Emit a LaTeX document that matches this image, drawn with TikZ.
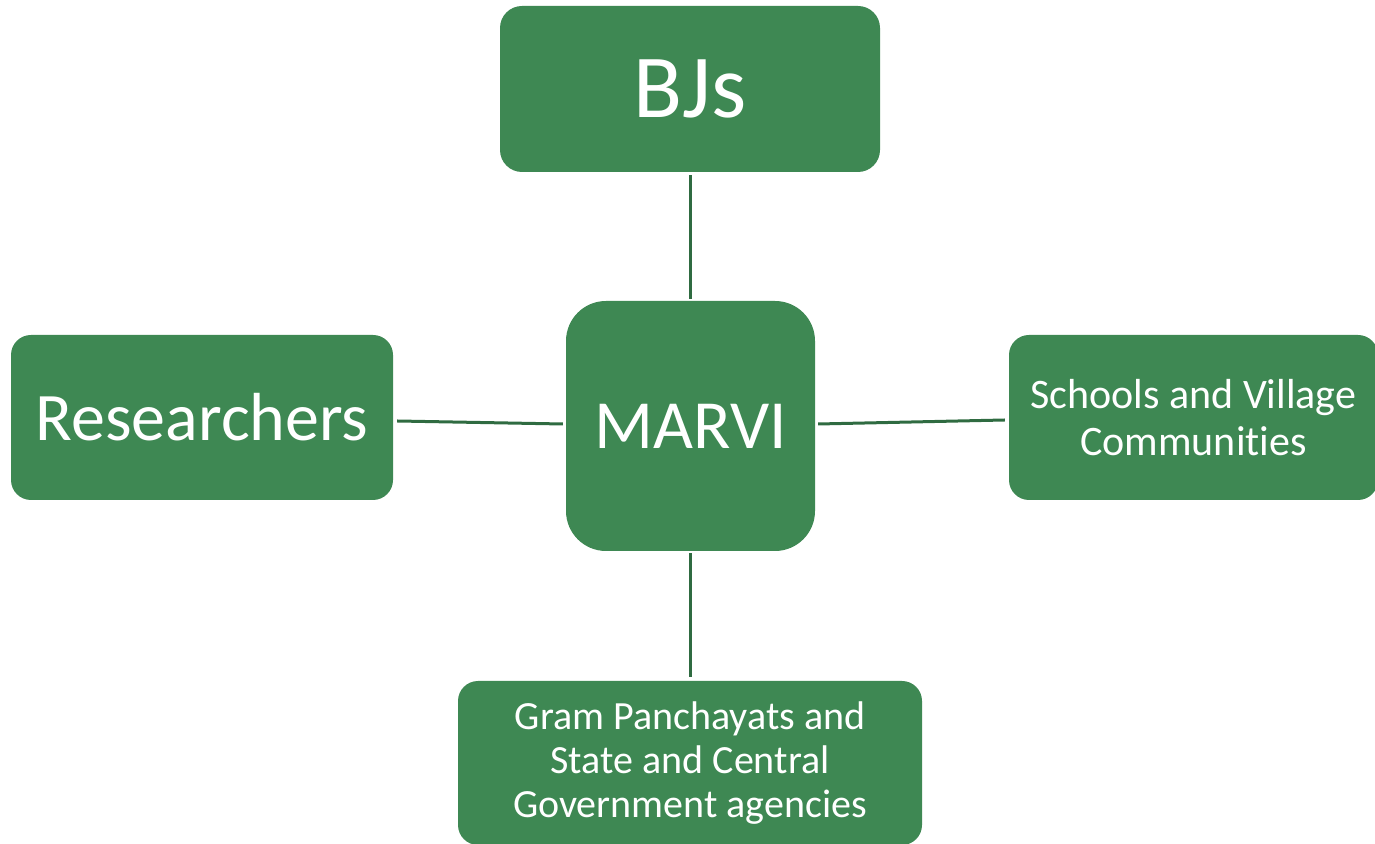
\documentclass[tikz,border=0pt]{standalone}
\usepackage{fontspec}
\setmainfont{Carlito}[Ligatures={NoCommon}]
\definecolor{boxgreen}{HTML}{3E8853}
\definecolor{linegreen}{HTML}{2F6B41}
\begin{document}
\begin{tikzpicture}[x=1pt,y=1pt,
  box/.style={fill=boxgreen,draw=none,text=white,align=center,inner sep=0pt},
  conn/.style={draw=linegreen,line width=3pt}]
\useasboundingbox (0,0) rectangle (1375,843);
\node[box,rounded corners=22pt,minimum width=380pt,minimum height=166pt,font=\fontsize{90}{94}\selectfont] (bjs) at (690,754) {BJs};
\node[box,rounded corners=40pt,minimum width=249pt,minimum height=250pt,font=\fontsize{69}{74}\selectfont] (marvi) at (690.5,417) {MARVI};
\node[box,rounded corners=20pt,minimum width=382pt,minimum height=165pt,font=\fontsize{68}{74}\selectfont] (res) at (202,425.5) {Researchers};
\node[box,rounded corners=20pt,minimum width=369pt,minimum height=165pt,font=\fontsize{42}{47}\selectfont] (sch) at (1193.5,425.5) {Schools and Village\\Communities};
\node[box,rounded corners=20pt,minimum width=464pt,minimum height=164pt,font=\fontsize{40}{44}\selectfont] (gov) at (690,80) {Gram Panchayats and\\State and Central\\Government agencies};
\draw[conn] ([yshift=-3pt]bjs.south) -- ([xshift=-0.5pt,yshift=2pt]marvi.north);
\draw[conn] ([xshift=-0.5pt,yshift=-2pt]marvi.south) -- ([yshift=4pt]gov.north);
\draw[conn] ([xshift=4pt,yshift=-3.5pt]res.east) -- ([xshift=-3pt,yshift=2pt]marvi.west);
\draw[conn] ([xshift=3pt,yshift=2pt]marvi.east) -- ([xshift=-4pt,yshift=-2.5pt]sch.west);
\end{tikzpicture}
\end{document}
